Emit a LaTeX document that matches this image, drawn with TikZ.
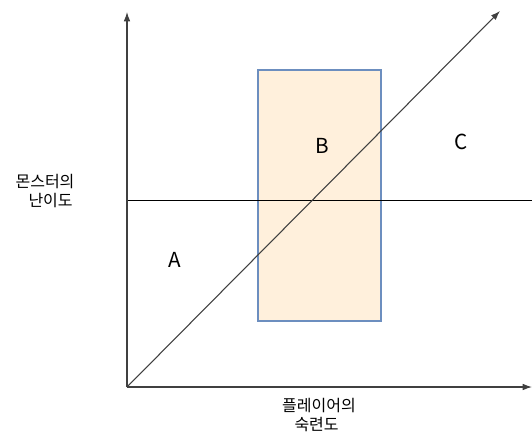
\documentclass[tikz,border=0pt]{standalone}
\usepackage{fontspec}
\setmainfont{Noto Sans CJK KR}
\usetikzlibrary{arrows.meta}
\definecolor{boxfill}{HTML}{FFF0DC}
\definecolor{boxedge}{HTML}{6C8EBF}
\definecolor{axisgray}{HTML}{404040}
\begin{document}
\begin{tikzpicture}[x=0.75pt,y=-0.75pt,
  axis/.style={draw=axisgray,line width=0.8pt,-{Latex[length=7pt,width=5pt]}},
  region/.style={font=\fontsize{15.5}{18}\selectfont},
  axlabel/.style={font=\fontsize{12}{14.5}\selectfont,align=center,inner sep=0pt}]
\useasboundingbox (0,0) rectangle (532,433);
\coordinate (O) at (127,387);
\coordinate (Ytip) at (127,12);
\coordinate (Xtip) at (532,387);
\coordinate (Dtip) at (500,11);
\coordinate (Hl) at (127,200);
\coordinate (Hr) at (532,200);
\node[draw=boxedge,fill=boxfill,line width=0.9pt,minimum width=123*0.75pt,minimum height=251*0.75pt,inner sep=0pt] (box) at (319.5,195.5) {};
\draw[black,line width=0.6pt] (Hl) -- (Hr);
\draw[axis] (O) -- (Ytip);
\draw[axis] (O) -- (Xtip);
\draw[axis] (O) -- (Dtip);
\node[region] (A) at (175,260) {A};
\node[region] (B) at (322,146) {B};
\node[region] (C) at (461,142) {C};
\node[axlabel] (ylab) at (45,191) {몬스터의\\\hspace*{0.7em}난이도};
\node[axlabel] (xlab) at (319,415) {플레이어의\\숙련도\hspace*{0.3em}};
\end{tikzpicture}
\end{document}
